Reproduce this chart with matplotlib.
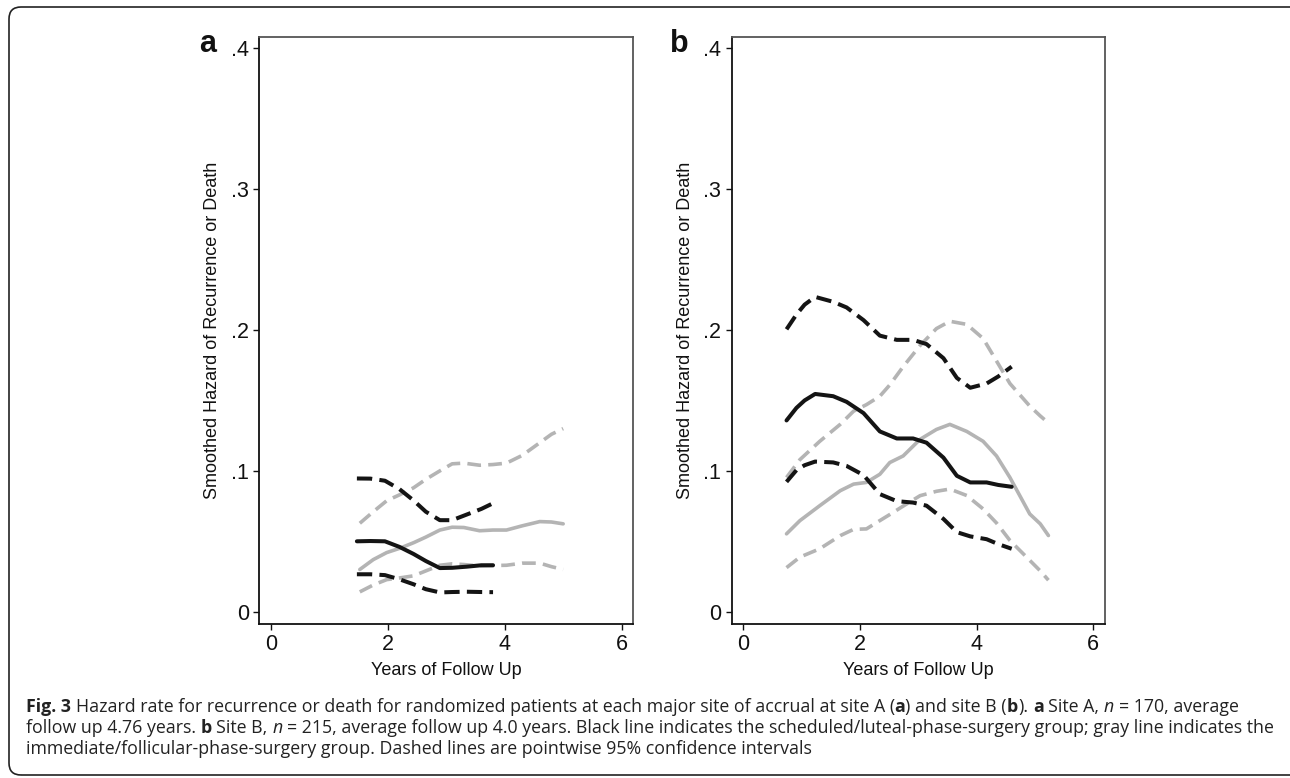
import matplotlib
matplotlib.use("Agg")
import matplotlib.pyplot as plt
from matplotlib.patches import FancyBboxPatch
from matplotlib.transforms import IdentityTransform

# ---------------- data ----------------
# Panel a (site A)
a_black_x = [1.47, 1.7, 1.95, 2.2, 2.44, 2.65, 2.89, 3.1, 3.35, 3.6, 3.80]
a_black_est = [0.050, 0.0502, 0.050, 0.046, 0.041, 0.036, 0.031, 0.0312, 0.032, 0.033, 0.033]
a_black_hi = [0.0946, 0.0945, 0.093, 0.087, 0.079, 0.071, 0.065, 0.065, 0.069, 0.073, 0.077]
a_black_lo = [0.0266, 0.0266, 0.026, 0.023, 0.0195, 0.016, 0.0137, 0.014, 0.0142, 0.014, 0.0139]

a_gray_x = [1.52, 1.75, 1.98, 2.2, 2.44, 2.65, 2.89, 3.1, 3.3, 3.57, 3.8, 4.03, 4.3, 4.6, 4.8, 5.0]
a_gray_est = [0.030, 0.037, 0.042, 0.045, 0.049, 0.053, 0.058, 0.060, 0.0598, 0.0575, 0.058,
              0.058, 0.061, 0.064, 0.0637, 0.0624]
a_gray_hi = [0.0628, 0.071, 0.0788, 0.083, 0.088, 0.094, 0.100, 0.105, 0.1055, 0.104, 0.1045,
             0.1055, 0.111, 0.120, 0.126, 0.130]
a_gray_lo = [0.0141, 0.019, 0.0228, 0.024, 0.0255, 0.029, 0.033, 0.034, 0.0335, 0.0325, 0.0328,
             0.033, 0.0345, 0.0345, 0.032, 0.030]

# Panel b (site B)
b_black_x = [0.74, 0.91, 1.05, 1.23, 1.54, 1.77, 2.06, 2.34, 2.63, 2.91, 3.14, 3.43, 3.66,
             3.89, 4.17, 4.37, 4.6]
b_black_est = [0.1358, 0.1447, 0.150, 0.1546, 0.153, 0.149, 0.141, 0.128, 0.123, 0.123, 0.120,
               0.1094, 0.0965, 0.0918, 0.0918, 0.090, 0.0887]
b_black_hi = [0.2005, 0.211, 0.218, 0.2235, 0.220, 0.216, 0.207, 0.196, 0.193, 0.193, 0.190,
              0.180, 0.166, 0.159, 0.162, 0.167, 0.174]
b_black_lo = [0.0922, 0.1005, 0.104, 0.1066, 0.106, 0.1035, 0.097, 0.0835, 0.0785, 0.0775,
              0.0753, 0.0659, 0.0565, 0.0535, 0.0515, 0.048, 0.0447]

b_gray_x = [0.74, 0.97, 1.31, 1.66, 1.89, 2.11, 2.34, 2.51, 2.74, 3.03, 3.31, 3.54, 3.83,
            4.11, 4.34, 4.57, 4.91, 5.09, 5.23]
b_gray_est = [0.0553, 0.0647, 0.0753, 0.0859, 0.0906, 0.0918, 0.0976, 0.1059, 0.1106, 0.1224,
              0.1294, 0.133, 0.128, 0.121, 0.1106, 0.0953, 0.0694, 0.0624, 0.0541]
b_gray_hi = [0.0953, 0.108, 0.121, 0.133, 0.1424, 0.147, 0.153, 0.161, 0.174, 0.189, 0.201,
             0.2062, 0.204, 0.194, 0.178, 0.162, 0.146, 0.139, 0.134]
b_gray_lo = [0.0313, 0.0388, 0.0447, 0.054, 0.0585, 0.0588, 0.0647, 0.069, 0.075, 0.0824,
             0.0855, 0.0871, 0.0825, 0.073, 0.063, 0.0506, 0.0365, 0.029, 0.0224]

x_ticks = [0, 2, 4, 6]
x_ticklabels = ["0", "2", "4", "6"]
y_ticks = [0, 0.1, 0.2, 0.3, 0.4]
y_ticklabels = ["0", ".1", ".2", ".3", ".4"]
panel_letters = ["a", "b"]
xlabel = "Years of Follow Up"
ylabel = "Smoothed Hazard of Recurrence or Death"

caption_lines = [
    [("Fig. 3", "bold", "normal"),
     (" Hazard rate for recurrence or death for randomized patients at each major site of accrual at site A (", "normal", "normal"),
     ("a", "bold", "normal"), (") and site B (", "normal", "normal"), ("b", "bold", "normal"),
     ("). ", "normal", "normal"), ("a", "bold", "normal"), (" Site A, ", "normal", "normal"),
     ("n", "normal", "italic"), (" = 170, average", "normal", "normal")],
    [("follow up 4.76 years. ", "normal", "normal"), ("b", "bold", "normal"),
     (" Site B, ", "normal", "normal"), ("n", "normal", "italic"),
     (" = 215, average follow up 4.0 years. Black line indicates the scheduled/luteal-phase-surgery group; gray line indicates the", "normal", "normal")],
    [("immediate/follicular-phase-surgery group. Dashed lines are pointwise 95% confidence intervals", "normal", "normal")],
]

# ---------------- figure ----------------
W, H = 1290, 778
fig = plt.figure(figsize=(W / 100, H / 100), dpi=100)
plt.rcParams['font.family'] = ['Liberation Sans', 'DejaVu Sans']

BLACK = "#141414"
GRAY = "#b4b4b4"

panels = [
    (259.3, 633.3, a_black_x, a_black_est, a_black_hi, a_black_lo,
     a_gray_x, a_gray_est, a_gray_hi, a_gray_lo),
    (731.7, 1105.0, b_black_x, b_black_est, b_black_hi, b_black_lo,
     b_gray_x, b_gray_est, b_gray_hi, b_gray_lo),
]
top_px, bot_px = 36.7, 624.0
letter_x = [199, 670]

for i, (l, r, bx, be, bh, bl, gx, ge, gh, gl) in enumerate(panels):
    ax = fig.add_axes([l / W, 1 - bot_px / H, (r - l) / W, (bot_px - top_px) / H])
    # gray (immediate) group
    ax.plot(gx, gh, color=GRAY, lw=2.6, dashes=(3.8, 2.0), dash_capstyle="butt",
            solid_joinstyle="round", dash_joinstyle="round")
    ax.plot(gx, gl, color=GRAY, lw=2.6, dashes=(3.8, 2.0), dash_capstyle="butt",
            dash_joinstyle="round")
    ax.plot(gx, ge, color=GRAY, lw=2.6, solid_capstyle="round", solid_joinstyle="round")
    # black (scheduled) group
    ax.plot(bx, bh, color=BLACK, lw=2.9, dashes=(3.8, 1.8), dash_capstyle="butt",
            dash_joinstyle="round")
    ax.plot(bx, bl, color=BLACK, lw=2.9, dashes=(3.8, 1.8), dash_capstyle="butt",
            dash_joinstyle="round")
    ax.plot(bx, be, color=BLACK, lw=2.9, solid_capstyle="round", solid_joinstyle="round")

    ax.set_xlim(-0.2, 6.2)
    ax.set_ylim(-0.0087, 0.4082)
    ax.set_xticks(x_ticks)
    ax.set_xticklabels(x_ticklabels)
    ax.set_yticks(y_ticks)
    ax.set_yticklabels(y_ticklabels)
    ax.tick_params(direction="out", length=4.5, width=1.0, labelsize=15.5, pad=3,
                   colors="#111111")
    for s in ("left", "bottom"):
        ax.spines[s].set_color("#111111")
        ax.spines[s].set_linewidth(1.3)
    for s in ("top", "right"):
        ax.spines[s].set_color("#555555")
        ax.spines[s].set_linewidth(1.3)
    ax.set_xlabel(xlabel, fontsize=13, color="#111111")
    ax.set_ylabel(ylabel, fontsize=13, color="#111111")
    ax.xaxis.set_label_coords(0.5, -0.065)
    ax.yaxis.set_label_coords(-0.102, 0.5)

    fig.text(letter_x[i] / W, 1 - 52 / H, panel_letters[i], fontsize=22, fontweight="bold",
             ha="left", va="baseline", color="#111111")

# frame around the figure
frame = FancyBboxPatch((9, 3), 1320, 768, boxstyle="round,pad=0,rounding_size=12",
                       transform=IdentityTransform(), facecolor="none",
                       edgecolor="#222222", lw=1.2)
fig.patches.append(frame)

# caption with mixed styles
fig.canvas.draw()
renderer = fig.canvas.get_renderer()
cap_font = ['Open Sans', 'DejaVu Sans']
cap_size = 12.75
probe1 = fig.text(0, 0, "x x", fontsize=cap_size, family=cap_font)
probe2 = fig.text(0, 0, "xx", fontsize=cap_size, family=cap_font)
space_w = probe1.get_window_extent(renderer).width - probe2.get_window_extent(renderer).width
probe1.remove()
probe2.remove()

baselines = [712, 733, 754]
for line, yb in zip(caption_lines, baselines):
    x = 26.0
    for txt, weight, style in line:
        lead = len(txt) - len(txt.lstrip(" "))
        trail = len(txt) - len(txt.rstrip(" "))
        core = txt.strip(" ")
        x += lead * space_w
        if core:
            t = fig.text(x / W, 1 - yb / H, core, fontsize=cap_size, family=cap_font,
                         fontweight=weight, fontstyle=style, ha="left", va="baseline",
                         color="#222222")
            x += t.get_window_extent(renderer).width
        x += trail * space_w

fig.savefig("out.png", dpi=100, facecolor="white")
